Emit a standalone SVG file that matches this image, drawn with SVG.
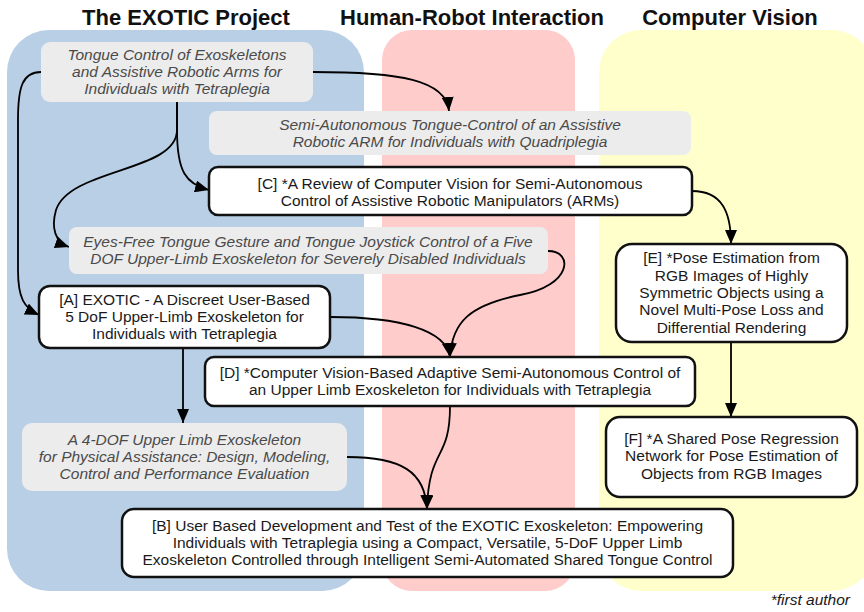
<svg xmlns="http://www.w3.org/2000/svg" width="864" height="612" viewBox="0 0 864 612">
  <style>
    .hdr { font-family: "Liberation Sans", Arial, sans-serif; font-size: 22px; font-weight: bold; fill: #111; text-anchor: middle; }
    .ref { fill: #ececec; }
    .ref-t { font-family: "Liberation Sans", Arial, sans-serif; font-size: 15.5px; font-style: italic; fill: #4a4a4a; text-anchor: middle; }
    .pub { fill: #fff; stroke: #111; stroke-width: 2.5; }
    .pub-t { font-family: "Liberation Sans", Arial, sans-serif; font-size: 15.5px; fill: #1a1a1a; text-anchor: middle; }
    .edge { fill: none; stroke: #000; stroke-width: 1.8; marker-end: url(#arrow); }
    .note { font-family: "Liberation Sans", Arial, sans-serif; font-size: 15.5px; font-style: italic; fill: #1a1a1a; text-anchor: end; }
  </style>
  <defs>
    <marker id="arrow" markerUnits="userSpaceOnUse" markerWidth="14" markerHeight="12" refX="14" refY="6" orient="auto">
      <path d="M0,0 L14,6 L0,12 z" fill="#000"/>
    </marker>
  </defs>

  <rect width="864" height="612" fill="#fff"/>

  <!-- research areas -->
  <g id="areas">
    <rect x="7" y="30" width="357" height="561" rx="42" fill="#b8cfe6"/>
    <rect x="382" y="30" width="193" height="561" rx="30" fill="#ffcccc"/>
    <rect x="599" y="30" width="275" height="561" rx="42" fill="#ffffcc"/>
    <text class="hdr" x="186" y="25">The EXOTIC Project</text>
    <text class="hdr" x="472" y="25">Human-Robot Interaction</text>
    <text class="hdr" x="730" y="25">Computer Vision</text>
  </g>

  <!-- connectors -->
  <g id="connectors">
    <path class="edge" d="M313,72 C400,72 446,80 449,111"/>
    <path class="edge" d="M177,102 L177,130 C177,172 186,184 209,190"/>
    <path class="edge" d="M177,102 L177,130 C177,172 70,168 56,210 C51,228 55,242 69,247"/>
    <path class="edge" d="M41,72 C22,72 18,88 18,120 L18,270 C18,298 24,308 39,315"/>
    <path class="edge" d="M692,191 C722,191 731,212 731,244"/>
    <path class="edge" d="M330,317 C400,317 446,330 450,357"/>
    <path class="edge" d="M548,251 C574,251 572,286 520,295 C470,305 452,322 450,357"/>
    <path class="edge" d="M183,348 L183,423"/>
    <path class="edge" d="M450,406 C450,462 429,446 427,509"/>
    <path class="edge" d="M347,457 C402,457 425,472 427,509"/>
    <path class="edge" d="M731,342 L731,417"/>
  </g>

  <g id="tongue-control">
    <rect class="ref" x="41" y="42" width="272" height="60" rx="9"/>
    <text class="ref-t" x="177" y="60">Tongue Control of Exoskeletons</text>
    <text class="ref-t" x="177" y="77">and Assistive Robotic Arms for</text>
    <text class="ref-t" x="177" y="94">Individuals with Tetraplegia</text>
  </g>

  <g id="semi-autonomous-arm">
    <rect class="ref" x="209" y="111" width="482" height="44" rx="8"/>
    <text class="ref-t" x="450" y="130">Semi-Autonomous Tongue-Control of an Assistive</text>
    <text class="ref-t" x="450" y="147">Robotic ARM for Individuals with Quadriplegia</text>
  </g>

  <g id="node-c">
    <rect class="pub" x="209" y="167" width="483" height="48" rx="9"/>
    <text class="pub-t" x="450" y="189">[C] *A Review of Computer Vision for Semi-Autonomous</text>
    <text class="pub-t" x="450" y="206">Control of Assistive Robotic Manipulators (ARMs)</text>
  </g>

  <g id="eyes-free">
    <rect class="ref" x="69" y="227" width="479" height="47" rx="8"/>
    <text class="ref-t" x="308" y="247">Eyes-Free Tongue Gesture and Tongue Joystick Control of a Five</text>
    <text class="ref-t" x="308" y="264">DOF Upper-Limb Exoskeleton for Severely Disabled Individuals</text>
  </g>

  <g id="node-a">
    <rect class="pub" x="39" y="286" width="291" height="62" rx="11"/>
    <text class="pub-t" x="184.5" y="305">[A] EXOTIC - A Discreet User-Based</text>
    <text class="pub-t" x="184.5" y="322">5 DoF Upper-Limb Exoskeleton for</text>
    <text class="pub-t" x="184.5" y="339">Individuals with Tetraplegia</text>
  </g>

  <g id="node-d">
    <rect class="pub" x="205" y="357" width="490" height="49" rx="9"/>
    <text class="pub-t" x="450" y="378">[D] *Computer Vision-Based Adaptive Semi-Autonomous Control of</text>
    <text class="pub-t" x="450" y="395">an Upper Limb Exoskeleton for Individuals with Tetraplegia</text>
  </g>

  <g id="four-dof">
    <rect class="ref" x="22" y="423" width="325" height="68" rx="10"/>
    <text class="ref-t" x="184.5" y="445">A 4-DOF Upper Limb Exoskeleton</text>
    <text class="ref-t" x="184.5" y="462">for Physical Assistance: Design, Modeling,</text>
    <text class="ref-t" x="184.5" y="479">Control and Performance Evaluation</text>
  </g>

  <g id="node-b">
    <rect class="pub" x="122" y="509" width="611" height="68" rx="12"/>
    <text class="pub-t" x="427.5" y="531">[B] User Based Development and Test of the EXOTIC Exoskeleton: Empowering</text>
    <text class="pub-t" x="427.5" y="548">Individuals with Tetraplegia using a Compact, Versatile, 5-DoF Upper Limb</text>
    <text class="pub-t" x="427.5" y="565">Exoskeleton Controlled through Intelligent Semi-Automated Shared Tongue Control</text>
  </g>

  <g id="node-e">
    <rect class="pub" x="616" y="244" width="231" height="98" rx="16"/>
    <text class="pub-t" x="731.5" y="263">[E] *Pose Estimation from</text>
    <text class="pub-t" x="731.5" y="281">RGB Images of Highly</text>
    <text class="pub-t" x="731.5" y="298">Symmetric Objects using a</text>
    <text class="pub-t" x="731.5" y="315">Novel Multi-Pose Loss and</text>
    <text class="pub-t" x="731.5" y="333">Differential Rendering</text>
  </g>

  <g id="node-f">
    <rect class="pub" x="606" y="417" width="251" height="80" rx="14"/>
    <text class="pub-t" x="731.5" y="444">[F] *A Shared Pose Regression</text>
    <text class="pub-t" x="731.5" y="461">Network for Pose Estimation of</text>
    <text class="pub-t" x="731.5" y="479">Objects from RGB Images</text>
  </g>

  <text class="note" x="850" y="605">*first author</text>
</svg>
